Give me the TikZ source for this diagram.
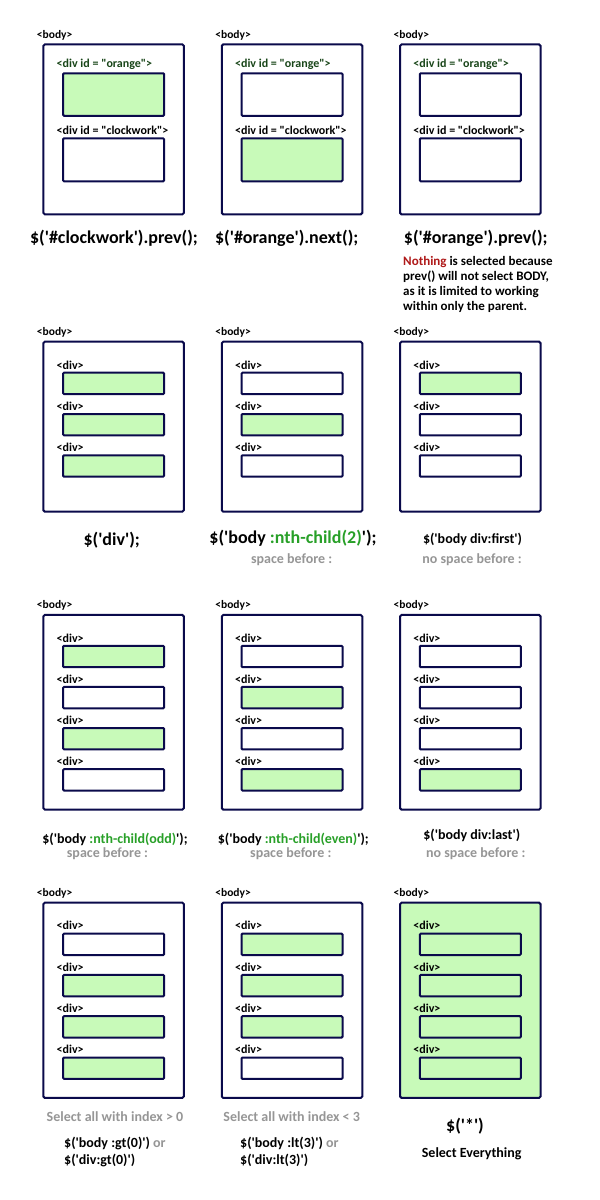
\documentclass[tikz,border=0pt]{standalone}
\usepackage{fontspec}
\setmainfont{Carlito}[Ligatures=TeXOff]
\usetikzlibrary{positioning}

\definecolor{boxblue}{RGB}{10,10,75}
\definecolor{selgreen}{RGB}{200,250,185}
\definecolor{codegreen}{RGB}{40,160,40}
\definecolor{idgreen}{RGB}{25,70,25}
\definecolor{hintgray}{RGB}{150,150,150}
\definecolor{nothingred}{RGB}{175,25,25}

\tikzset{
  bodybox/.style={draw=boxblue, line width=2pt, rounded corners=1.5pt, minimum width=140.5pt, inner sep=0pt},
  divbox/.style={draw=boxblue, line width=2pt, rounded corners=1pt, minimum width=101pt, inner sep=0pt},
  tag/.style={font=\fontsize{12}{14}\selectfont\bfseries, inner sep=0pt, anchor=base west},
  bodytag/.style={tag, font=\fontsize{11.5}{14}\selectfont\bfseries},
  bigcode/.style={font=\fontsize{18}{20}\selectfont\bfseries, inner sep=0pt},
  code/.style={font=\fontsize{14}{16}\selectfont\bfseries, inner sep=0pt},
  hint/.style={code, text=hintgray},
  note/.style={font=\fontsize{13}{14.8}\selectfont\bfseries, inner sep=0pt, align=left}
}

\begin{document}
\begin{tikzpicture}[x=1pt,y=-1pt]

\fill[white] (0,0) rectangle (600,1200);
\useasboundingbox (0,0) rectangle (600,1200);

% row 1: prev / next
\foreach \x/\nm/\fo/\fc in {113.6/a/selgreen/white, 292/b/white/selgreen, 470.3/c/white/white}{
  \node[bodybox, minimum height=170pt] (\nm) at (\x,129.4) {};
  \node[bodytag] (\nm-t) at ([xshift=-5.6pt,yshift=5pt]\nm.north west) {<body>};
  \node[divbox, fill=\fo, minimum height=42.5pt] (\nm-o) at (\x,94.5) {};
  \node[tag, text=idgreen] (\nm-ot) at ([xshift=-5.6pt,yshift=4.5pt]\nm-o.north west) {<div id = "orange">};
  \node[divbox, fill=\fc, minimum height=43pt] (\nm-c) at (\x,159.8) {};
  \node[tag] (\nm-ct) at ([xshift=-5.6pt,yshift=3.3pt]\nm-c.north west) {<div id = "clockwork">};
}

\node[bigcode] (c1) at (114,238) {\$('\#clockwork').prev();};
\node[bigcode] (c2) at (286.7,238) {\$('\#orange').next();};
\node[bigcode] (c3) at (475.8,238) {\$('\#orange').prev();};
\node[note, anchor=north west] (n3) at (403,256.5) {\textcolor{nothingred}{Nothing} is selected because\\prev() will not select BODY,\\as it is limited to working\\within only the parent.};

% row 2: three divs
\foreach \x/\nm/\fills in {113.6/d/{selgreen,selgreen,selgreen}, 292/e/{white,selgreen,white}, 470.3/f/{selgreen,white,white}}{
  \node[bodybox, minimum height=170pt] (\nm) at (\x,426.7) {};
  \node[bodytag] (\nm-t) at ([xshift=-5.6pt,yshift=5pt]\nm.north west) {<body>};
  \foreach \f [count=\k] in \fills {
    \node[divbox, fill=\f, minimum height=21.4pt] (\nm\k) at (\x,{383.4+41.3*(\k-1)}) {};
    \node[tag] (\nm\k-t) at ([xshift=-5.6pt,yshift=2.7pt]\nm\k.north west) {<div>};
  }
}

\node[bigcode] (c4) at (111.7,540) {\$('div');};
\node[bigcode] (c5) at (293,538) {\$('body \textcolor{codegreen}{:nth-child(2)}');};
\node[hint] (h5) at (291.7,560) {space before :};
\node[code] (c6) at (472.5,539) {\$('body div:first')};
\node[hint] (h6) at (472,560) {no space before :};

% row 3: four divs
\foreach \x/\nm/\fills in {113.6/g/{selgreen,white,selgreen,white}, 292/h/{white,selgreen,white,selgreen}, 470.3/i/{white,white,white,selgreen}}{
  \node[bodybox, minimum height=194.7pt] (\nm) at (\x,712.3) {};
  \node[bodytag] (\nm-t) at ([xshift=-5.6pt,yshift=5pt]\nm.north west) {<body>};
  \foreach \f [count=\k] in \fills {
    \node[divbox, fill=\f, minimum height=21.4pt] (\nm\k) at (\x,{656.5+41.1*(\k-1)}) {};
    \node[tag] (\nm\k-t) at ([xshift=-5.6pt,yshift=2.7pt]\nm\k.north west) {<div>};
  }
}

\node[code] (c7) at (115,839.3) {\$('body \textcolor{codegreen}{:nth-child(odd)}');};
\node[hint] (h7) at (107.5,853.3) {space before :};
\node[code] (c8) at (293.3,839) {\$('body \textcolor{codegreen}{:nth-child(even)}');};
\node[hint] (h8) at (290.8,853.3) {space before :};
\node[code] (c9) at (471.7,835.7) {\$('body div:last')};
\node[hint] (h9) at (475.8,853.3) {no space before :};

% row 4: gt / lt / everything
\foreach \x/\nm/\bfill/\fills in {113.6/j/white/{white,selgreen,selgreen,selgreen}, 292/k/white/{selgreen,selgreen,selgreen,white}, 470.3/l/selgreen/{selgreen,selgreen,selgreen,selgreen}}{
  \node[bodybox, fill=\bfill, minimum height=195.3pt] (\nm) at (\x,1000.3) {};
  \node[bodytag] (\nm-t) at ([xshift=-5.6pt,yshift=5pt]\nm.north west) {<body>};
  \foreach \f [count=\k] in \fills {
    \node[divbox, fill=\f, minimum height=21.4pt] (\nm\k) at (\x,{944.3+41.3*(\k-1)}) {};
    \node[tag] (\nm\k-t) at ([xshift=-5.6pt,yshift=2.7pt]\nm\k.north west) {<div>};
  }
}

\node[hint] (h10) at (115,1116.7) {Select all with index > 0};
\node[code, anchor=west] (c10) at (64,1143.3) {\$('body :gt(0)') \textcolor{hintgray}{or}};
\node[code, anchor=west] (d10) at (64,1160) {\$('div:gt(0)')};
\node[hint] (h11) at (291.7,1116.7) {Select all with index < 3};
\node[code, anchor=west] (c11) at (240,1143.3) {\$('body :lt(3)') \textcolor{hintgray}{or}};
\node[code, anchor=west] (d11) at (240,1160) {\$('div:lt(3)')};
\node[bigcode] (c12) at (465,1125.7) {\$('*')};
\node[code] (h12) at (471.7,1154) {Select Everything};

\end{tikzpicture}
\end{document}
